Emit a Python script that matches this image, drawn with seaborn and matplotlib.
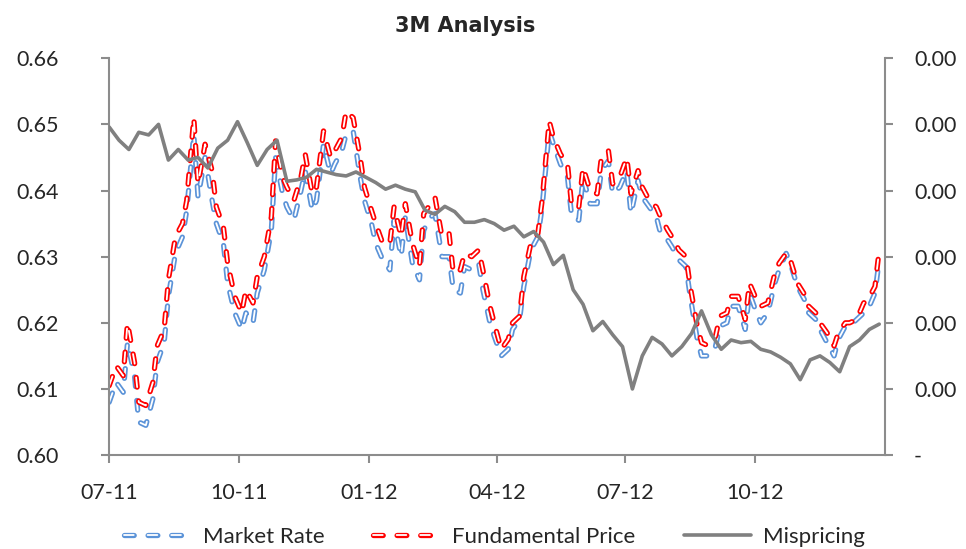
import matplotlib
matplotlib.use("Agg")
import matplotlib.pyplot as plt
import matplotlib.dates as mdates
import matplotlib.patheffects as pe
from matplotlib.ticker import FixedLocator, FuncFormatter
import numpy as np
import pandas as pd
import seaborn as sns

# ── Data ──────────────────────────────────────────────────────────────

PRICE_START = "2011-07-01"      # one point every 3 business days
MISP_START = "2011-07-01"       # weekly (Fridays)

market_rate = [
    0.6080, 0.6110, 0.6095, 0.6170, 0.6120, 0.6050, 0.6045, 0.6085, 0.6140, 0.6170,
    0.6240, 0.6305, 0.6330, 0.6370, 0.6485, 0.6390, 0.6450, 0.6385, 0.6350, 0.6320,
    0.6260, 0.6215, 0.6190, 0.6215, 0.6200, 0.6245, 0.6280, 0.6340, 0.6450, 0.6395,
    0.6375, 0.6355, 0.6400, 0.6430, 0.6370, 0.6385, 0.6470, 0.6425, 0.6440, 0.6460,
    0.6485, 0.6490, 0.6420, 0.6385, 0.6350, 0.6320, 0.6295, 0.6280, 0.6355, 0.6300,
    0.6360, 0.6290, 0.6265, 0.6340, 0.6360, 0.6365, 0.6300, 0.6300, 0.6250, 0.6245,
    0.6285, 0.6280, 0.6290, 0.6250, 0.6200, 0.6180, 0.6150, 0.6160, 0.6190, 0.6205,
    0.6255, 0.6310, 0.6330, 0.6375, 0.6490, 0.6470, 0.6440, 0.6420, 0.6360, 0.6355,
    0.6420, 0.6380, 0.6380, 0.6430, 0.6445, 0.6395, 0.6405, 0.6430, 0.6365, 0.6415,
    0.6390, 0.6375, 0.6360, 0.6335, 0.6325, 0.6315, 0.6295, 0.6285, 0.6240, 0.6175,
    0.6150, 0.6150, 0.6165, 0.6195, 0.6200, 0.6225, 0.6225, 0.6190, 0.6245, 0.6215,
    0.6200, 0.6215, 0.6260, 0.6280, 0.6305, 0.6290, 0.6255, 0.6235, 0.6215, 0.6205,
    0.6190, 0.6170, 0.6150, 0.6175, 0.6195, 0.6195, 0.6205, 0.6215, 0.6220, 0.6245,
    0.6295,
]

fundamental_price = [
    0.6105, 0.6135, 0.6120, 0.6200, 0.6140, 0.6080, 0.6075, 0.6110, 0.6165, 0.6190,
    0.6265, 0.6330, 0.6350, 0.6385, 0.6510, 0.6410, 0.6470, 0.6430, 0.6375, 0.6345,
    0.6290, 0.6240, 0.6215, 0.6250, 0.6230, 0.6270, 0.6300, 0.6360, 0.6475, 0.6420,
    0.6405, 0.6385, 0.6420, 0.6455, 0.6395, 0.6405, 0.6490, 0.6450, 0.6460, 0.6480,
    0.6520, 0.6510, 0.6450, 0.6405, 0.6370, 0.6350, 0.6320, 0.6320, 0.6375, 0.6330,
    0.6380, 0.6320, 0.6285, 0.6365, 0.6380, 0.6390, 0.6330, 0.6335, 0.6275, 0.6280,
    0.6305, 0.6300, 0.6310, 0.6280, 0.6225, 0.6200, 0.6160, 0.6175, 0.6200, 0.6210,
    0.6270, 0.6320, 0.6335, 0.6385, 0.6505, 0.6480, 0.6455, 0.6440, 0.6375, 0.6375,
    0.6435, 0.6400, 0.6395, 0.6450, 0.6460, 0.6410, 0.6420, 0.6450, 0.6395, 0.6430,
    0.6405, 0.6385, 0.6375, 0.6360, 0.6340, 0.6330, 0.6310, 0.6300, 0.6255, 0.6195,
    0.6170, 0.6165, 0.6180, 0.6210, 0.6215, 0.6240, 0.6240, 0.6205, 0.6260, 0.6235,
    0.6225, 0.6230, 0.6275, 0.6290, 0.6305, 0.6295, 0.6260, 0.6243, 0.6225, 0.6215,
    0.6200, 0.6185, 0.6165, 0.6185, 0.6200, 0.6200, 0.6205, 0.6230, 0.6235, 0.6255,
    0.6310,
]

mispricing = [
    0.00248, 0.00238, 0.00231, 0.00244, 0.00242, 0.00250, 0.00223, 0.00231, 0.00223, 0.00225,
    0.00217, 0.00232, 0.00238, 0.00252, 0.00236, 0.00219, 0.00231, 0.00238, 0.00207, 0.00208,
    0.00210, 0.00216, 0.00214, 0.00212, 0.00211, 0.00214, 0.00210, 0.00206, 0.00201, 0.00204,
    0.00201, 0.00199, 0.00185, 0.00182, 0.00188, 0.00184, 0.00176, 0.00176, 0.00178, 0.00175,
    0.00170, 0.00173, 0.00165, 0.00169, 0.00161, 0.00144, 0.00151, 0.00125, 0.00114, 0.00094,
    0.00101, 0.00091, 0.00082, 0.00050, 0.00075, 0.00089, 0.00084, 0.00075, 0.00082, 0.00092,
    0.00109, 0.00091, 0.00080, 0.00087, 0.00085, 0.00086, 0.00080, 0.00078, 0.00074, 0.00069,
    0.00057, 0.00072, 0.00075, 0.00070, 0.00063, 0.00082, 0.00087, 0.00095, 0.00099,
]

left_ticks = [0.60, 0.61, 0.62, 0.63, 0.64, 0.65, 0.66]
right_ticks = [0.0, 0.0005, 0.0010, 0.0015, 0.0020, 0.0025, 0.0030]
month_ticks = ["2011-07-01", "2011-10-01", "2012-01-01", "2012-04-01", "2012-07-01", "2012-10-01"]

price_dates = pd.bdate_range(start=PRICE_START, periods=len(market_rate), freq="3B")
misp_dates = pd.date_range(start=MISP_START, periods=len(mispricing), freq="W-FRI")

BLUE = "#5B93D8"
RED = "#FF0000"
GREY = "#808080"
AXIS = "#8C8C8C"

# ── Style ─────────────────────────────────────────────────────────────

sns.set_style("white")
plt.rcParams["font.family"] = ["Lato", "DejaVu Sans"]
plt.rcParams["lines.scale_dashes"] = False


def double_dash(line, color):
    """Excel style outlined dash: white core on a coloured round-capped stroke."""
    line.set_color("white")
    line.set_linewidth(1.3)
    line.set_linestyle((0, (7, 10)))
    line.set_dash_capstyle("round")
    line.set_path_effects([pe.Stroke(linewidth=3.8, foreground=color), pe.Normal()])


fig = plt.figure(figsize=(9.66, 5.49), dpi=100)
ax = fig.add_axes([0.113, 0.171, 0.803, 0.723])
ax2 = ax.twinx()

sns.lineplot(x=price_dates, y=market_rate, ax=ax, label="Market Rate")
double_dash(ax.lines[-1], BLUE)
sns.lineplot(x=price_dates, y=fundamental_price, ax=ax, label="Fundamental Price")
double_dash(ax.lines[-1], RED)
sns.lineplot(x=misp_dates, y=mispricing, ax=ax2, color=GREY, linewidth=2.6,
             label="Mispricing")

handles = [ax.lines[0], ax.lines[1], ax2.lines[0]]
labels = ["Market Rate", "Fundamental Price", "Mispricing"]
for a in (ax, ax2):
    if a.get_legend() is not None:
        a.get_legend().remove()

# ── Axes ──────────────────────────────────────────────────────────────

ax.set_xlim(pd.Timestamp("2011-07-01"), pd.Timestamp("2013-01-01"))
ax.set_ylim(0.60, 0.66)
ax2.set_ylim(0.0, 0.003)

ax.yaxis.set_major_locator(FixedLocator(left_ticks))
ax.yaxis.set_major_formatter(FuncFormatter(lambda v, p: f"{v:.2f}"))
ax2.yaxis.set_major_locator(FixedLocator(right_ticks))
ax2.yaxis.set_major_formatter(FuncFormatter(lambda v, p: "-" if abs(v) < 1e-9 else f"{v:.2f}"))

ax.xaxis.set_major_locator(FixedLocator(mdates.date2num(pd.to_datetime(month_ticks))))
ax.xaxis.set_major_formatter(mdates.DateFormatter("%m-%y"))

ax.set_xlabel(""); ax.set_ylabel(""); ax2.set_ylabel("")

for a in (ax, ax2):
    for side, sp in a.spines.items():
        sp.set_color(AXIS)
        sp.set_linewidth(1.5)
    a.spines["top"].set_visible(False)
ax.spines["right"].set_visible(False)
ax2.spines["left"].set_visible(False)
ax2.spines["bottom"].set_visible(False)

ax.tick_params(axis="y", direction="out", length=6, width=1.5, color=AXIS,
               labelsize=15.5, pad=30, left=True)
ax.tick_params(axis="x", direction="out", length=6, width=1.5, color=AXIS,
               labelsize=15.5, pad=14, bottom=True)
ax2.tick_params(axis="y", direction="out", length=6, width=1.5, color=AXIS,
                labelsize=15.5, pad=15, right=True)

fig.text(0.482, 0.953, "3M Analysis", ha="center", va="center", fontsize=15,
         fontweight="bold", family=["DejaVu Sans"])

fig.legend(handles, labels, loc="center", bbox_to_anchor=(0.512, 0.022), ncol=3,
           frameon=False, fontsize=16, handlelength=3.0, handletextpad=0.55,
           columnspacing=2.2)

fig.savefig("out.png", dpi=100)
